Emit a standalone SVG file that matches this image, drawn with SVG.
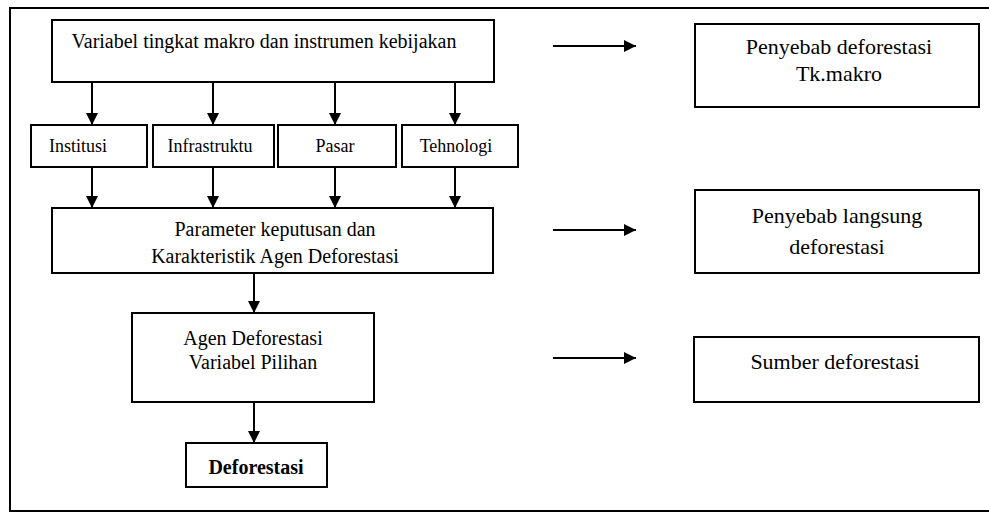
<svg xmlns="http://www.w3.org/2000/svg" width="989" height="514" viewBox="0 0 989 514">
<style>
.box{fill:#fff;stroke:#000;stroke-width:2}
.frame{fill:none;stroke:#000;stroke-width:2}
.t{font-family:"Liberation Serif","Times New Roman",serif;font-size:20px;fill:#000;text-anchor:middle}
.s{font-size:18px}
.r{font-size:22px}
.b{font-weight:bold;font-size:20px}
.c{stroke:#000;stroke-width:2;fill:none;marker-end:url(#ah)}
</style>
<defs>
<marker id="ah" viewBox="0 0 10 10" refX="10" refY="5" markerWidth="6" markerHeight="6" orient="auto" markerUnits="strokeWidth">
<path d="M0,0 L10,5 L0,10 Z" fill="#000"/>
</marker>
</defs>
<rect class="frame" x="10" y="8" width="990" height="503"/>
<g id="connectors">
<line class="c" x1="92" y1="82" x2="92" y2="125"/>
<line class="c" x1="213" y1="82" x2="213" y2="125"/>
<line class="c" x1="335" y1="82" x2="335" y2="125"/>
<line class="c" x1="455" y1="82" x2="455" y2="125"/>
<line class="c" x1="92" y1="167" x2="92" y2="208"/>
<line class="c" x1="213" y1="167" x2="213" y2="208"/>
<line class="c" x1="335" y1="167" x2="335" y2="208"/>
<line class="c" x1="455" y1="167" x2="455" y2="208"/>
<line class="c" x1="254" y1="273" x2="254" y2="313"/>
<line class="c" x1="254" y1="402" x2="254" y2="443"/>
<line class="c" x1="553" y1="46" x2="636" y2="46"/>
<line class="c" x1="553" y1="230" x2="636" y2="230"/>
<line class="c" x1="553" y1="358" x2="636" y2="358"/>
</g>
<g id="makro">
<rect class="box" x="52" y="20" width="442" height="62"/>
<text class="t" x="264" y="48">Variabel tingkat makro dan instrumen kebijakan</text>
</g>
<g id="institusi">
<rect class="box" x="31" y="125" width="116" height="42"/>
<text class="t s" x="78" y="152">Institusi</text>
</g>
<g id="infrastruktu">
<rect class="box" x="153" y="125" width="121" height="42"/>
<text class="t s" x="210" y="152">Infrastruktu</text>
</g>
<g id="pasar">
<rect class="box" x="278" y="125" width="118" height="42"/>
<text class="t s" x="335" y="152">Pasar</text>
</g>
<g id="tehnologi">
<rect class="box" x="402" y="125" width="116" height="42"/>
<text class="t s" x="456" y="152">Tehnologi</text>
</g>
<g id="parameter">
<rect class="box" x="52" y="208" width="441" height="65"/>
<text class="t" x="275" y="236">Parameter keputusan dan</text>
<text class="t" x="275" y="263">Karakteristik Agen Deforestasi</text>
</g>
<g id="agen">
<rect class="box" x="132" y="313" width="242" height="89"/>
<text class="t" x="253" y="345">Agen Deforestasi</text>
<text class="t" x="253" y="369">Variabel Pilihan</text>
</g>
<g id="deforestasi">
<rect class="box" x="186" y="443" width="141" height="44"/>
<text class="t b" x="256" y="474">Deforestasi</text>
</g>
<g id="penyebab-makro">
<rect class="box" x="695" y="24" width="284" height="83"/>
<text class="t r" x="839" y="54">Penyebab deforestasi</text>
<text class="t r" x="839" y="81">Tk.makro</text>
</g>
<g id="penyebab-langsung">
<rect class="box" x="695" y="190" width="284" height="83"/>
<text class="t r" x="837" y="223">Penyebab langsung</text>
<text class="t r" x="837" y="254">deforestasi</text>
</g>
<g id="sumber">
<rect class="box" x="694" y="337" width="285" height="65"/>
<text class="t r" x="835" y="369">Sumber deforestasi</text>
</g>
</svg>
